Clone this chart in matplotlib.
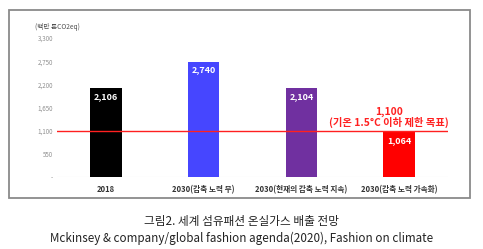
import matplotlib
matplotlib.use("Agg")
import matplotlib.pyplot as plt
from matplotlib.patches import Rectangle

plt.rcParams['font.family'] = ['Noto Sans CJK KR', 'DejaVu Sans']

categories = ["2018", "2030(감축 노력 무)", "2030(현재의 감축 노력 지속)", "2030(감축 노력 가속화)"]
values = [2106, 2740, 2104, 1064]
value_labels = ["2,106", "2,740", "2,104", "1,064"]
colors = ["#000000", "#4646FF", "#7030A0", "#FF0000"]
yticks = [0, 550, 1100, 1650, 2200, 2750, 3300]
ytick_labels = ["-", "550", "1,100", "1,650", "2,200", "2,750", "3,300"]
target = 1100
target_label = "1,100\n(기온 1.5°C 이하 제한 목표)"
unit_label = "(백만 톤CO2eq)"
caption1 = "그림2. 세계 섬유패션 온실가스 배출 전망"
caption2 = "Mckinsey & company/global fashion agenda(2020), Fashion on climate"

W, H = 483, 249
fig = plt.figure(figsize=(W/100, H/100), dpi=100)

# frame box
fig.patches.append(Rectangle((9/W, 1-198/H), 461/W, 188/H, transform=fig.transFigure,
                             fill=False, edgecolor="#8a8a8a", linewidth=1.3))

ax = fig.add_axes([57/W, 1-177/H, 391/W, (177-38)/H])
x = list(range(len(categories)))
bars = ax.bar(x, values, width=0.32, color=colors, zorder=2)
ax.set_xlim(-0.5, 3.5)
ax.set_ylim(0, 3300)
ax.axhline(target, color="#FF2020", linewidth=1.0, zorder=3)
ax.axhline(0, color="#e0e0e0", linewidth=0.8, zorder=1)

for xi, v, lab in zip(x, values, value_labels):
    ax.text(xi, v - 95, lab, ha="center", va="top", color="white",
            fontsize=6.5, fontweight="bold", zorder=4)

ax.text(2.9, 1160, target_label, ha="center", va="bottom", color="#FF2020",
        fontsize=7.4, fontweight="bold", linespacing=0.95, zorder=4)

ax.set_yticks(yticks)
ax.set_yticklabels(ytick_labels, fontsize=4.5, color="#909090")
ax.set_xticks(x)
ax.set_xticklabels(categories, fontsize=5.5, fontweight="bold", color="#333333")
ax.tick_params(axis="both", length=0, pad=3)
ax.tick_params(axis="x", pad=6)
for s in ax.spines.values():
    s.set_visible(False)

fig.text(35/W, 1-27/H, unit_label, fontsize=4.8, color="#505050", ha="left", va="center")

fig.text(0.5, 1-221/H, caption1, fontsize=8.4, ha="center", va="center", color="#222222")
fig.text(0.5, 1-238/H, caption2, fontsize=8.4, ha="center", va="center", color="#222222")

fig.savefig("out.png", dpi=100)
